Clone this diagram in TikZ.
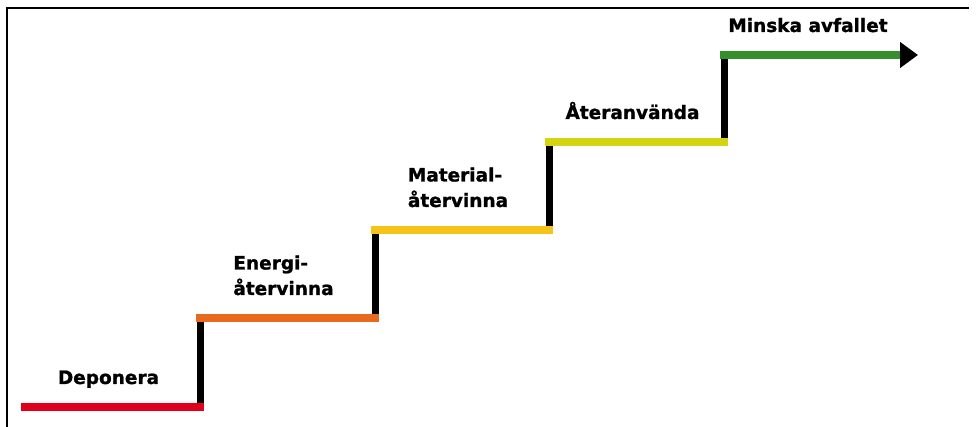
\documentclass[tikz,border=0pt]{standalone}
\usepackage{fontspec}
\newfontfamily\stepfont[FakeBold=1.2]{DejaVu Sans Bold}
\usetikzlibrary{positioning,arrows.meta}
\definecolor{StepRed}{RGB}{222,0,28}
\definecolor{StepOrange}{RGB}{232,106,30}
\definecolor{StepGold}{RGB}{246,196,24}
\definecolor{StepYellow}{RGB}{214,212,16}
\definecolor{StepGreen}{RGB}{52,142,44}

\begin{document}
\begin{tikzpicture}[
x=1pt, y=-1pt,
steplabel/.style={font=\stepfont\fontsize{18.5}{25.5}\selectfont, align=left, inner sep=0pt, text depth=0pt, xshift=-4pt},
stair/.style={line width=8pt, line cap=rect},
riser/.style={line width=7pt, draw=black},
arrow/.style={-{Triangle[length=18pt, width=25pt, color=black]}}
]
\useasboundingbox (0,0) rectangle (978,427);
\draw[line width=2pt] (7,427) -- (7,8) -- (969,8);

\coordinate (s0) at (25,407);
\coordinate (s1) at (200,407);
\coordinate (t1) at (200,318);
\coordinate (s2) at (375,318);
\coordinate (t2) at (375,230);
\coordinate (s3) at (549,230);
\coordinate (t3) at (549,142);
\coordinate (s4) at (724,142);
\coordinate (t4) at (724,55);
\coordinate (goal) at (918,55);

% risers
\draw[riser] (s1) -- (t1);
\draw[riser] (s2) -- (t2);
\draw[riser] (s3) -- (t3);
\draw[riser] (s4) -- (t4);

% steps
\draw[stair, draw=StepRed] (s0) -- node[steplabel, above=19pt] (deponera) {Deponera} (s1);
\draw[stair, draw=StepOrange] (t1) -- node[steplabel, above=19pt] (energi) {Energi-\\återvinna} (s2);
\draw[stair, draw=StepGold] (t2) -- node[steplabel, above=19pt] (material) {Material-\\återvinna} (s3);
\draw[stair, draw=StepYellow] (t3) -- node[steplabel, above=19pt] (ateranvanda) {Återanvända} (s4);
\draw[stair, arrow, draw=StepGreen] (t4) -- node[steplabel, above=19pt, xshift=-9pt] (minska) {Minska avfallet} (goal);
\end{tikzpicture}
\end{document}
